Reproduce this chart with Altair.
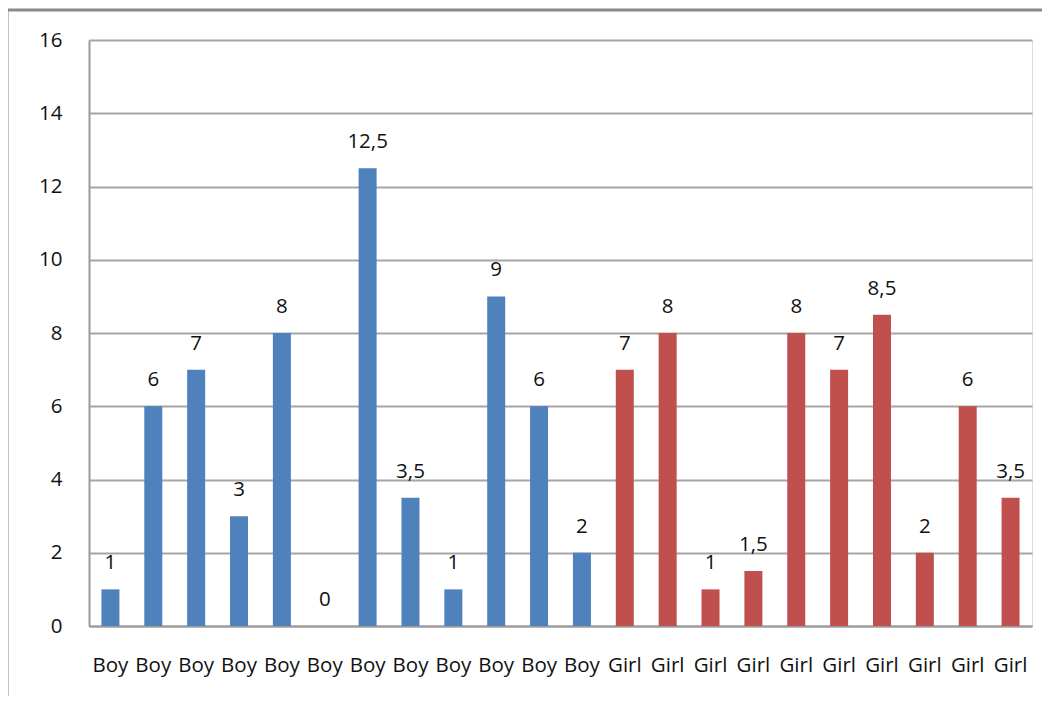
import altair as alt
import pandas as pd

groups = ["Boy"] * 12 + ["Girl"] * 10
values = [1, 6, 7, 3, 8, 0, 12.5, 3.5, 1, 9, 6, 2,
          7, 8, 1, 1.5, 8, 7, 8.5, 2, 6, 3.5]
ids = [f"{g}|{i}" for i, g in enumerate(groups)]

df = pd.DataFrame({"id": ids, "group": groups, "value": values})

FONT = "Open Sans"
FS = 20.5

x = alt.X("id:N", sort=ids, title=None,
          scale=alt.Scale(paddingInner=0.58, paddingOuter=0.29),
          axis=alt.Axis(labelExpr="split(datum.value, '|')[0]", labelAngle=0,
                        labelFontSize=FS, labelFont=FONT, labelColor="#111",
                        labelPadding=29, ticks=False, domainColor="#9a9a9a",
                        domainWidth=2, grid=False))
y = alt.Y("value:Q", title=None,
          scale=alt.Scale(domain=[0, 16], nice=False),
          axis=alt.Axis(values=list(range(0, 17, 2)), labelFontSize=FS, labelFont=FONT,
                        labelColor="#111", labelPadding=27, ticks=False,
                        domainColor="#9a9a9a", domainWidth=2,
                        gridColor="#a6a6a6", gridWidth=2))

color = alt.Color("group:N", legend=None,
                  scale=alt.Scale(domain=["Boy", "Girl"], range=["#4F81BD", "#C0504D"]))

bars = alt.Chart(df).mark_bar().encode(x=x, y=y, color=color)

labels = alt.Chart(df).transform_calculate(
    lab="replace(format(datum.value, '.1~f'), '.', ',')"
).mark_text(baseline="bottom", dy=-16, fontSize=FS, font=FONT, color="#111").encode(
    x=alt.X("id:N", sort=ids), y="value:Q", text="lab:N")

frame = alt.Chart(pd.DataFrame({"a": [0]})).mark_rect(
    fill=None, stroke="#8a8a8a", strokeWidth=3, clip=False).encode(
    x=alt.value(-82), x2=alt.value(990), y=alt.value(-30), y2=alt.value(700))

chart = alt.layer(frame, bars, labels).properties(
    width=943, height=586,
    autosize=alt.AutoSizeParams(type="none"),
    padding={"left": 81, "top": 32, "right": 10, "bottom": 70},
).configure_view(stroke=None).configure(background="white")

chart.save("out.html", embed_options={"renderer": "svg", "actions": False})
